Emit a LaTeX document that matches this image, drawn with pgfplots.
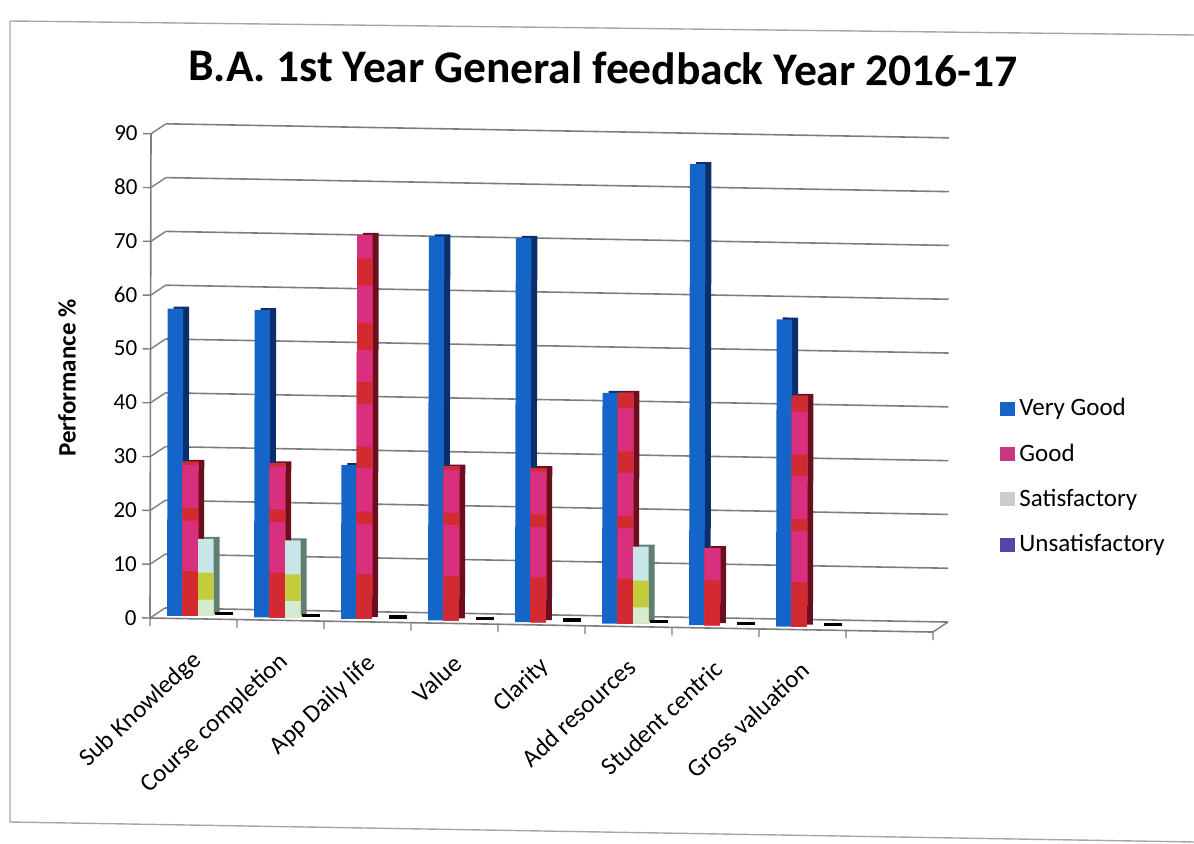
\documentclass[border=0pt]{standalone}
\usepackage{pgfplots}
\pgfplotsset{compat=1.18}
\usepackage{pgfplotstable}
\usepackage{fontspec}
\setmainfont{Carlito}
\definecolor{vgood}{HTML}{1565C8}
\definecolor{vgoodd}{HTML}{0B2F6B}
\definecolor{gpink}{HTML}{D92F7F}
\definecolor{gred}{HTML}{D22A30}
\definecolor{goodd}{HTML}{6B0F1E}
\definecolor{spale}{HTML}{C8E6E8}
\definecolor{slime}{HTML}{C3CC3A}
\definecolor{sbot}{HTML}{D5EBD0}
\definecolor{sd}{HTML}{5F7F70}
\definecolor{gridc}{HTML}{7E7E7E}
\definecolor{leggood}{HTML}{C8387F}
\definecolor{legunsat}{HTML}{5545A5}
\pgfplotstableread{
x vgood good sat unsat
0.5 57.1 28.6 14.3 0
1.5 57.1 28.6 14.3 0
2.5 28.6 71.4 0 0
3.5 71.4 28.6 0 0
4.5 71.4 28.6 0 0
5.5 42.9 42.9 14.3 0
6.5 85.7 14.3 0 0
7.5 57.1 42.9 0 0
}\datatbl
\pgfplotsset{
 skewaxes/.style={x={(43.5pt,-0.78pt)},y={(0.0055pt,2.69pt)},xmin=0,xmax=9,ymin=0,ymax=90,anchor=origin},
 barcol/.style={draw=none,no markers,forget plot,
   /pgfplots/error bars/y dir=minus,
   /pgfplots/error bars/y explicit relative,
   /pgfplots/error bars/error mark=none,
   /pgfplots/error bars/error bar style={line width=7.75pt,draw=#1,solid,line cap=butt}},
 abar/.style 2 args={xshift=#1,barcol=#2},
 depth/.style 2 args={xshift=#1,yshift=1pt,barcol=#2},
 band/.style n args={2}{xshift=-3.9pt,y filter/.expression={min(y,#2)},barcol=#1},
 sband/.style n args={2}{xshift=3.9pt,y filter/.expression={min(y,#2)},barcol=#1},
}
\begin{document}
\begin{tikzpicture}[x=1pt,y=1pt]
\path[use as bounding box] (0,0) rectangle (597,421.5);
% scanned frame
\draw[gray!70,line width=0.7pt] (5,411) -- (597,404);
\draw[gray!70,line width=0.7pt] (5,411) -- (5,10.5) -- (597,0.5);
% back wall with grid
\begin{axis}[skewaxes,at={(82.5pt,117.5pt)},axis line style={draw=none},
  xtick=\empty,ytick={0,10,...,90},yticklabels={},
  major tick length=0pt,ymajorgrids,
  grid style={gridc,line width=0.8pt}]
\addplot[draw=none,forget plot] coordinates {(0,0)};
\end{axis}
% bars
\begin{axis}[skewaxes,at={(77.25pt,114pt)},axis lines=none,clip=false]
% Very Good
\addplot[depth={-8.6pt}{vgoodd}] table[x=x,y=vgood,y error expr=1]{\datatbl};
\addplot[abar={-11.6pt}{vgood}] table[x=x,y=vgood,y error expr=1]{\datatbl};
% Good
\addplot[depth={-0.9pt}{goodd}] table[x=x,y=good,y error expr=1]{\datatbl};
\addplot[abar={-3.9pt}{gpink}] table[x=x,y=good,y error expr=1]{\datatbl};
\addplot[band={gred}{67}] table[x=x,y=good,y error expr=1]{\datatbl};
\addplot[band={gpink}{62}] table[x=x,y=good,y error expr=1]{\datatbl};
\addplot[band={gred}{55}] table[x=x,y=good,y error expr=1]{\datatbl};
\addplot[band={gpink}{50}] table[x=x,y=good,y error expr=1]{\datatbl};
\addplot[band={gred}{44}] table[x=x,y=good,y error expr=1]{\datatbl};
\addplot[band={gpink}{40}] table[x=x,y=good,y error expr=1]{\datatbl};
\addplot[band={gred}{32}] table[x=x,y=good,y error expr=1]{\datatbl};
\addplot[band={gpink}{28}] table[x=x,y=good,y error expr=1]{\datatbl};
\addplot[band={gred}{20}] table[x=x,y=good,y error expr=1]{\datatbl};
\addplot[band={gpink}{17.7}] table[x=x,y=good,y error expr=1]{\datatbl};
\addplot[band={gred}{8.3}] table[x=x,y=good,y error expr=1]{\datatbl};
% Satisfactory
\addplot[depth={6.9pt}{sd}] table[x=x,y=sat,y error expr=1]{\datatbl};
\addplot[abar={3.9pt}{spale}] table[x=x,y=sat,y error expr=1]{\datatbl};
\addplot[sband={slime}{8}] table[x=x,y=sat,y error expr=1]{\datatbl};
\addplot[sband={sbot}{3}] table[x=x,y=sat,y error expr=1]{\datatbl};
% Unsatisfactory
\addplot[only marks,mark=-,mark size=4.5pt,mark options={line width=1.6pt,black},xshift=13pt,yshift=1pt,forget plot] table[x=x,y=unsat]{\datatbl};
\end{axis}
% front axis
\begin{axis}[skewaxes,at={(75pt,112.5pt)},
  axis x line*=bottom,axis y line*=left,
  axis line style={gridc,line width=0.8pt},
  tick style={gridc,line width=0.7pt},
  tick align=outside,major tick length=4pt,
  xtick={0,...,9},xticklabels={},
  extra x ticks={0.5,1.5,...,7.5},
  extra x tick labels={Sub Knowledge,Course completion,App Daily life,Value,Clarity,Add resources,Student centric,Gross valuation},
  extra x tick style={major tick length=0pt,
    xticklabel style={rotate=43,anchor=north east,font=\fontsize{12.5}{14}\selectfont,inner sep=0pt,xshift=-11.3pt,yshift=-9.8pt}},
  ytick={0,10,...,90},
  /pgf/number format/assume math mode=true,
  yticklabel style={font=\fontsize{11.5}{14}\selectfont,inner sep=2.5pt},
  ylabel={\textbf{Performance \%}},
  every axis y label/.style={at={(-41.5pt,120pt)},rotate=90,anchor=center,font=\fontsize{12.5}{14}\selectfont},
  legend style={at={(425pt,112pt)},draw=none,fill=none,anchor=north west,
    font=\fontsize{12.5}{14}\selectfont,row sep=8.5pt,inner sep=0pt,
    cells={anchor=west}},
  legend image code/.code={\fill[#1,draw=none] (0pt,-3.5pt) rectangle (7.5pt,3.5pt);},
  legend cell align=left,
  clip=false]
\addlegendimage{fill=vgood}
\addlegendimage{fill=leggood}
\addlegendimage{fill=black!20}
\addlegendimage{fill=legunsat}
\legend{Very Good,Good,Satisfactory,Unsatisfactory}
\pgfplotsinvokeforeach{0,10,...,90}{
  \draw[gridc,line width=0.7pt] (axis cs:0,#1) -- ++(7.5pt,5pt);
}
\draw[gridc,line width=0.7pt] (axis cs:9,0) -- ++(7.5pt,5pt);
\end{axis}
\node[rotate=-0.4,font=\fontsize{22.7}{26}\selectfont\bfseries,anchor=center] at (301.5,387.5) {B.A. 1st Year General feedback Year 2016-17};
\end{tikzpicture}
\end{document}
